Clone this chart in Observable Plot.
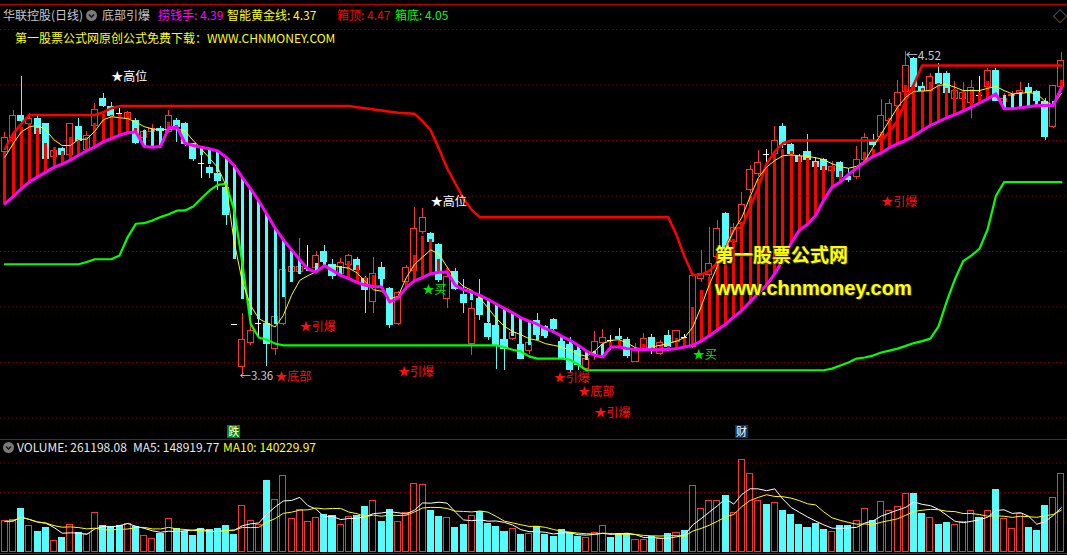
<!DOCTYPE html>
<html>
<head>
<meta charset="utf-8">
<script src="https://cdn.jsdelivr.net/npm/d3@7"></script>
<script src="https://cdn.jsdelivr.net/npm/@observablehq/plot@0.6"></script>
<style>
  html, body { margin: 0; padding: 0; background: #000; }
  #wrap { position: relative; width: 1067px; height: 555px; overflow: hidden; background: #000;
          font-family: "Noto Sans CJK SC", "Noto Sans", sans-serif; }
  #wrap svg { display: block; position: absolute; left: 0; }
  .t { position: absolute; white-space: nowrap; font-size: 12px; line-height: 14px; }
  .hline { position: absolute; left: 0; width: 1067px; height: 1px; background: #b00000; }
  .icon { position: absolute; width: 11px; height: 11px; border-radius: 50%; background: #7a7a7a; }
  .tag { position: absolute; width: 13px; height: 13px; font-size: 11px; line-height: 13px;
         text-align: center; color: #fff; }
  .mark { position: absolute; white-space: nowrap; font-weight: bold; color: #ffff00;
          text-shadow: 1px 1px 0 #3a3a00, -1px 0 0 #3a3a00; }
</style>
</head>
<body>
<div id="wrap"></div>
<script>
// ---- 华联控股 daily bars (price in yuan) ----
const open = [
  4.158, 4.20, 4.29, 4.26, 4.278, 4.26, 4.14, 4.17, 4.146, 4.25,
  4.166, 4.254, 4.35, 4.322, 4.298, 4.278, 4.272, 4.21, 4.23, 4.242,
  4.23, 4.272, 4.26, 4.188, 4.12, 4.102, 4.08, 4.03, 3.538, 3.382,
  3.47, 3.54, 3.54, 3.45, 3.54, 3.726, 3.726, 3.74, 3.741, 3.80,
  3.753, 3.72, 3.75, 3.77, 3.702, 3.618, 3.741, 3.666, 3.54, 3.69,
  3.73, 3.87, 3.862, 3.822, 3.63, 3.726, 3.642, 3.465, 3.63, 3.54,
  3.531, 3.482, 3.486, 3.462, 3.44, 3.55, 3.528, 3.552, 3.474, 3.462,
  3.44, 3.376, 3.426, 3.47, 3.482, 3.492, 3.482, 3.402, 3.444, 3.49,
  3.432, 3.494, 3.474, 3.492, 3.456, 3.702, 3.714, 3.78, 3.935, 3.834,
  3.90, 4.02, 4.08, 4.15, 4.152, 4.25, 4.182, 4.14, 4.158, 4.122,
  4.13, 4.09, 4.12, 4.07, 4.068, 4.128, 4.20, 4.212, 4.27, 4.326,
  4.374, 4.492, 4.392, 4.38, 4.44, 4.44, 4.35, 4.35, 4.335, 4.364,
  4.392, 4.452, 4.34, 4.36, 4.37, 4.39, 4.374, 4.338, 4.248, 4.392
];
const high = [
  4.23, 4.308, 4.43, 4.296, 4.29, 4.262, 4.176, 4.175, 4.262, 4.278,
  4.234, 4.332, 4.37, 4.338, 4.314, 4.306, 4.28, 4.24, 4.256, 4.25,
  4.308, 4.278, 4.265, 4.19, 4.162, 4.11, 4.085, 4.035, 3.538, 3.576,
  3.60, 3.564, 3.545, 3.57, 3.738, 3.75, 3.846, 3.82, 3.80, 3.82,
  3.77, 3.775, 3.79, 3.78, 3.71, 3.78, 3.762, 3.67, 3.655, 3.75,
  3.957, 3.955, 3.87, 3.83, 3.74, 3.74, 3.70, 3.615, 3.70, 3.55,
  3.536, 3.49, 3.53, 3.48, 3.51, 3.576, 3.535, 3.56, 3.48, 3.49,
  3.45, 3.42, 3.51, 3.518, 3.498, 3.522, 3.49, 3.47, 3.506, 3.50,
  3.48, 3.516, 3.515, 3.50, 3.72, 3.804, 3.886, 3.912, 3.94, 3.90,
  4.014, 4.11, 4.164, 4.168, 4.25, 4.26, 4.19, 4.15, 4.22, 4.14,
  4.135, 4.126, 4.125, 4.098, 4.18, 4.227, 4.222, 4.347, 4.347, 4.416,
  4.52, 4.50, 4.41, 4.44, 4.476, 4.45, 4.414, 4.41, 4.416, 4.43,
  4.46, 4.46, 4.37, 4.375, 4.41, 4.404, 4.38, 4.35, 4.40, 4.518
];
const low = [
  4.14, 4.19, 4.265, 4.255, 4.22, 4.125, 4.12, 4.14, 4.14, 4.164,
  4.16, 4.25, 4.32, 4.285, 4.274, 4.27, 4.185, 4.205, 4.225, 4.23,
  4.225, 4.194, 4.18, 4.125, 4.062, 4.062, 4.02, 3.892, 3.537, 3.36,
  3.462, 3.486, 3.384, 3.426, 3.535, 3.72, 3.72, 3.735, 3.735, 3.755,
  3.70, 3.71, 3.745, 3.725, 3.576, 3.576, 3.70, 3.522, 3.535, 3.685,
  3.725, 3.86, 3.825, 3.69, 3.594, 3.66, 3.576, 3.426, 3.55, 3.48,
  3.375, 3.37, 3.48, 3.41, 3.43, 3.49, 3.49, 3.515, 3.41, 3.365,
  3.37, 3.37, 3.408, 3.46, 3.444, 3.47, 3.415, 3.40, 3.44, 3.43,
  3.425, 3.45, 3.468, 3.484, 3.45, 3.69, 3.70, 3.768, 3.79, 3.82,
  3.89, 4.01, 4.07, 4.11, 4.14, 4.17, 4.145, 4.115, 4.12, 4.10,
  4.09, 4.085, 4.06, 4.05, 4.06, 4.12, 4.175, 4.20, 4.26, 4.32,
  4.37, 4.38, 4.37, 4.37, 4.40, 4.36, 4.32, 4.34, 4.28, 4.35,
  4.38, 4.34, 4.33, 4.35, 4.36, 4.365, 4.34, 4.20, 4.242, 4.38
];
const close = [
  4.21, 4.29, 4.272, 4.278, 4.224, 4.134, 4.162, 4.146, 4.26, 4.20,
  4.218, 4.31, 4.324, 4.29, 4.296, 4.30, 4.19, 4.232, 4.242, 4.234,
  4.29, 4.248, 4.188, 4.132, 4.118, 4.082, 4.054, 3.93, 3.537, 3.482,
  3.514, 3.54, 3.466, 3.564, 3.732, 3.744, 3.744, 3.74, 3.782, 3.762,
  3.71, 3.758, 3.782, 3.732, 3.662, 3.72, 3.702, 3.534, 3.652, 3.741,
  3.882, 3.922, 3.834, 3.696, 3.708, 3.666, 3.613, 3.592, 3.57, 3.492,
  3.462, 3.45, 3.508, 3.414, 3.47, 3.50, 3.494, 3.522, 3.414, 3.372,
  3.39, 3.413, 3.474, 3.49, 3.48, 3.484, 3.422, 3.444, 3.483, 3.444,
  3.47, 3.456, 3.512, 3.49, 3.71, 3.72, 3.754, 3.882, 3.81, 3.886,
  3.966, 4.092, 4.12, 4.148, 4.20, 4.182, 4.152, 4.122, 4.128, 4.106,
  4.094, 4.104, 4.068, 4.056, 4.13, 4.21, 4.182, 4.29, 4.33, 4.37,
  4.47, 4.392, 4.38, 4.43, 4.404, 4.37, 4.38, 4.37, 4.39, 4.362,
  4.452, 4.342, 4.35, 4.365, 4.38, 4.37, 4.344, 4.212, 4.398, 4.488
];
// daily volume (shares, hands)
const volume = [
  101700, 105100, 142400, 84750, 65540, 80230, 33900, 45200, 91500, 61020,
  57630, 128820, 84750, 82490, 84750, 92660, 82490, 50850, 40680, 58760,
  110740, 76840, 65540, 50850, 75710, 71190, 74580, 84750, 54240, 152550,
  102830, 88140, 238430, 172890, 254250, 110740, 141250, 98310, 114130, 122040,
  118650, 88140, 116390, 118650, 149160, 169500, 99440, 138990, 99440, 131080,
  229390, 223740, 135600, 116390, 114130, 79100, 90400, 120910, 132210, 91530,
  82490, 65540, 76840, 54240, 57630, 82490, 54240, 48590, 71190, 62150,
  48590, 46330, 63280, 87010, 45200, 57630, 57630, 39550, 37290, 48590,
  41810, 57630, 63280, 68930, 220350, 144640, 169500, 171760, 186500, 131080,
  310750, 263290, 169500, 155940, 162720, 135600, 122040, 88140, 77970, 91530,
  71190, 66670, 84750, 84750, 101700, 144640, 102830, 166110, 135600, 151420,
  193230, 193230, 125430, 114130, 88140, 94920, 90400, 100570, 137860, 114130,
  137860, 206790, 110000, 76490.85, 126560, 77970, 70950.77, 152550, 181930, 261198.08
];
// 捞钱手 (thick magenta line)
const moneyLine = [
  3.972, 3.998, 4.026, 4.051, 4.069, 4.086, 4.103, 4.115, 4.129, 4.147,
  4.163, 4.177, 4.195, 4.207, 4.219, 4.228, 4.231, 4.178, 4.176, 4.178,
  4.246, 4.248, 4.19, 4.182, 4.176, 4.17, 4.162, 4.14, 4.109, 4.066,
  4.026, 3.982, 3.934, 3.884, 3.842, 3.806, 3.77, 3.737, 3.726, 3.749,
  3.732, 3.714, 3.702, 3.689, 3.678, 3.674, 3.672, 3.618, 3.633, 3.67,
  3.694, 3.706, 3.72, 3.725, 3.726, 3.678, 3.662, 3.654, 3.642, 3.627,
  3.611, 3.594, 3.579, 3.561, 3.549, 3.538, 3.522, 3.511, 3.494, 3.48,
  3.462, 3.441, 3.426, 3.42, 3.456, 3.456, 3.45, 3.447, 3.447, 3.447,
  3.447, 3.447, 3.45, 3.456, 3.462, 3.477, 3.496, 3.517, 3.538, 3.564,
  3.588, 3.619, 3.65, 3.679, 3.72, 3.77, 3.83, 3.876, 3.898, 3.93,
  3.987, 4.032, 4.05, 4.078, 4.10, 4.122, 4.143, 4.155, 4.174, 4.188,
  4.20, 4.217, 4.236, 4.254, 4.268, 4.282, 4.293, 4.306, 4.32, 4.335,
  4.35, 4.368, 4.314, 4.314, 4.318, 4.322, 4.326, 4.326, 4.326, 4.39
];
// 智能黄金线 (thin yellow line)
const goldLine = [
  4.14, 4.188, 4.231, 4.249, 4.255, 4.238, 4.202, 4.182, 4.182, 4.204,
  4.205, 4.234, 4.274, 4.286, 4.282, 4.279, 4.266, 4.25, 4.242, 4.238,
  4.241, 4.242, 4.234, 4.20, 4.169, 4.136, 4.102, 4.038, 3.834, 3.69,
  3.606, 3.558, 3.542, 3.528, 3.57, 3.642, 3.696, 3.713, 3.727, 3.746,
  3.749, 3.744, 3.74, 3.723, 3.691, 3.662, 3.657, 3.63, 3.638, 3.705,
  3.753, 3.78, 3.806, 3.79, 3.744, 3.702, 3.674, 3.66, 3.633, 3.596,
  3.559, 3.53, 3.512, 3.50, 3.486, 3.48, 3.468, 3.462, 3.456, 3.444,
  3.43, 3.422, 3.441, 3.468, 3.48, 3.482, 3.47, 3.453, 3.448, 3.456,
  3.462, 3.468, 3.477, 3.49, 3.528, 3.60, 3.68, 3.747, 3.813, 3.876,
  3.924, 3.998, 4.066, 4.104, 4.128, 4.145, 4.148, 4.145, 4.143, 4.138,
  4.131, 4.116, 4.106, 4.10, 4.107, 4.126, 4.176, 4.224, 4.272, 4.32,
  4.356, 4.377, 4.378, 4.38, 4.398, 4.402, 4.392, 4.38, 4.38, 4.38,
  4.388, 4.395, 4.38, 4.368, 4.37, 4.373, 4.368, 4.342, 4.326, 4.37
];
// 箱顶 / 箱底 (box top red, box bottom green)
const boxTop = [
  4.17, 4.224, 4.26, 4.292, 4.292, 4.292, 4.292, 4.292, 4.292, 4.292,
  4.292, 4.292, 4.302, 4.316, 4.324, 4.324, 4.324, 4.324, 4.324, 4.324,
  4.324, 4.324, 4.324, 4.324, 4.324, 4.324, 4.324, 4.324, 4.324, 4.324,
  4.324, 4.324, 4.324, 4.324, 4.324, 4.324, 4.324, 4.324, 4.324, 4.324,
  4.324, 4.324, 4.324, 4.32, 4.316, 4.312, 4.308, 4.304, 4.30, 4.298,
  4.296, 4.27, 4.236, 4.17, 4.10, 4.045, 3.99, 3.95, 3.923, 3.923,
  3.923, 3.923, 3.923, 3.923, 3.923, 3.923, 3.923, 3.923, 3.923, 3.923,
  3.923, 3.923, 3.923, 3.923, 3.923, 3.923, 3.923, 3.923, 3.923, 3.923,
  3.923, 3.923, 3.86, 3.78, 3.714, 3.716, 3.73, 3.76, 3.81, 3.88,
  3.888, 3.96, 4.032, 4.116, 4.16, 4.19, 4.20, 4.20, 4.20, 4.20,
  4.20, 4.20, 4.20, 4.20, 4.20, 4.20, 4.20, 4.20, 4.23, 4.272,
  4.344, 4.404, 4.47, 4.47, 4.47, 4.47, 4.47, 4.47, 4.47, 4.47,
  4.47, 4.47, 4.47, 4.47, 4.47, 4.47, 4.47, 4.47, 4.47, 4.47
];
const boxBottom = [
  3.754, 3.754, 3.754, 3.754, 3.754, 3.754, 3.754, 3.754, 3.754, 3.754,
  3.762, 3.772, 3.772, 3.772, 3.786, 3.852, 3.90, 3.902, 3.912, 3.924,
  3.934, 3.947, 3.948, 3.962, 3.992, 4.02, 4.04, 4.044, 3.948, 3.756,
  3.54, 3.49, 3.482, 3.468, 3.462, 3.462, 3.462, 3.462, 3.462, 3.462,
  3.462, 3.462, 3.462, 3.462, 3.462, 3.462, 3.462, 3.462, 3.462, 3.462,
  3.462, 3.462, 3.462, 3.462, 3.462, 3.462, 3.462, 3.462, 3.462, 3.462,
  3.462, 3.455, 3.446, 3.44, 3.422, 3.414, 3.414, 3.414, 3.414, 3.41,
  3.393, 3.372, 3.372, 3.372, 3.372, 3.372, 3.372, 3.372, 3.372, 3.372,
  3.372, 3.372, 3.372, 3.372, 3.372, 3.372, 3.372, 3.372, 3.372, 3.372,
  3.372, 3.372, 3.372, 3.372, 3.372, 3.372, 3.372, 3.372, 3.372, 3.372,
  3.372, 3.378, 3.389, 3.40, 3.414, 3.418, 3.425, 3.436, 3.443, 3.45,
  3.46, 3.47, 3.477, 3.486, 3.53, 3.62, 3.70, 3.765, 3.785, 3.81,
  3.88, 4.00, 4.05, 4.05, 4.05, 4.05, 4.05, 4.05, 4.05, 4.05
];
// colour of the sticks between 捞钱手 and the 3-day EMA: r = red, c = cyan (run lengths)
const stickColorRuns = [["r", 17], ["c", 3], ["r", 2], ["c", 20], ["r", 4], ["c", 3], ["r", 6],
                        ["c", 19], ["r", 47], ["c", 8], ["r", 1]];
const emaStart = 4.158;      // 3-day EMA on the first bar shown
const priceGrid = [3.2, 3.4, 3.6, 3.8, 4.0, 4.2, 4.4, 4.6];
const volumeGrid = [100000, 200000, 300000];
// signal texts drawn by the 底部引爆 formula
const signalIdx   = [13, 52, 36, 33, 48, 51, 67, 70, 72, 84, 107];
const signalPrice = [4.427, 3.978, 3.528, 3.346, 3.364, 3.659, 3.343, 3.294, 3.216, 3.427, 3.978];
const signalText  = ["★高位", "★高位", "★引爆", "★底部", "★引爆", "★买", "★引爆", "★底部", "★引爆", "★买", "★引爆"];
const signalKind  = ["high", "high", "fire", "bottom", "fire", "buy", "fire", "bottom", "fire", "buy", "fire"];
// event tags under the price pane
const eventIdx = [28, 90];
const eventText = ["跌", "财"];
const eventBg = ["#008a00", "#0d3563"];

// ---- derived series ----
const N = close.length;
const fast = [];
close.forEach((c, i) => fast.push(i === 0 ? emaStart : (c + fast[i - 1]) / 2));
const stickColor = stickColorRuns.flatMap(([c, n]) => Array(n).fill(c));

const RED_K = "#ff3232", CYAN = "#54fcfc", GRID = "#b40000";
const FONT = "'Noto Sans CJK SC', 'Noto Sans', sans-serif";
const kindColor = {high: "#ffffff", fire: "#ff1010", bottom: "#ff1010", buy: "#00e800"};

const rows = d3.range(N).map(i => ({
  i, o: open[i], h: high[i], l: low[i], c: close[i], v: volume[i],
  gold: goldLine[i], money: moneyLine[i], top: boxTop[i], bot: boxBottom[i],
  fast: fast[i], stick: stickColor[i]
}));
const isDoji = d => Math.abs(d.c - d.o) < 0.003;
const isUp = d => d.c >= d.o;
const kColor = d => isDoji(d) ? "#ffffff" : (isUp(d) ? RED_K : CYAN);

const signals = signalIdx.map((i, k) => ({i, p: signalPrice[k], t: signalText[k], color: kindColor[signalKind[k]]}));
const lo = d3.minIndex(low), hi = d3.maxIndex(high);
const fmt = d3.format(".2f");

const xOpt = {type: "linear", domain: [-0.5, N - 0.5], axis: null};
const HALF = 0.37;

// ---- price pane ----
const main = Plot.plot({
  width: 1067, height: 440,
  marginTop: 29, marginBottom: 22.5, marginLeft: 0.3, marginRight: 2,
  x: xOpt,
  y: {domain: [3.2, 4.6], axis: null},
  style: {background: "transparent", fontFamily: FONT, overflow: "visible"},
  marks: [
    Plot.ruleY(priceGrid, {stroke: GRID, strokeDasharray: "1,3"}),
    Plot.ruleX(rows, {x: "i", y1: "l", y2: "h", stroke: kColor, strokeWidth: 1, shapeRendering: "crispEdges"}),
    Plot.rect(rows.filter(d => !isDoji(d)), {
      x1: d => d.i - HALF, x2: d => d.i + HALF, y1: "o", y2: "c",
      fill: d => isUp(d) ? "#000000" : CYAN, stroke: d => isUp(d) ? RED_K : CYAN,
      strokeWidth: 1, shapeRendering: "crispEdges"
    }),
    Plot.ruleY(rows.filter(isDoji), {x1: d => d.i - HALF, x2: d => d.i + HALF, y: "c", stroke: "#ffffff", shapeRendering: "crispEdges"}),
    Plot.ruleX(rows, {x: "i", y1: "money", y2: "fast", stroke: d => d.stick === "r" ? "#ff0000" : CYAN,
                      strokeWidth: 3, shapeRendering: "crispEdges"}),
    Plot.line(rows, {x: "i", y: "top", stroke: "#ff0000", strokeWidth: 2.5}),
    Plot.line(rows, {x: "i", y: "bot", stroke: "#00ff00", strokeWidth: 2.2}),
    Plot.line(rows, {x: "i", y: "gold", stroke: "#ffff00", strokeWidth: 1}),
    Plot.line(rows, {x: "i", y: "money", stroke: "#ff00ff", strokeWidth: 3}),
    Plot.text(signals, {x: "i", y: "p", text: "t", fill: "color", textAnchor: "start", fontSize: 12, dx: 0}),
    Plot.text([{i: lo, p: low[lo]}], {x: "i", y: "p", text: d => "←" + fmt(d.p), fill: "#c8c8c8",
                                       textAnchor: "start", fontSize: 11.5, dx: -3, dy: 3}),
    Plot.text([{i: hi, p: high[hi]}], {x: "i", y: "p", text: d => "←" + fmt(d.p), fill: "#c8c8c8",
                                       textAnchor: "start", fontSize: 12, dx: 0, dy: 4})
  ]
});
main.style.top = "0px";

// ---- volume pane ----
const vol = Plot.plot({
  width: 1067, height: 115,
  marginTop: 7.75, marginBottom: 4, marginLeft: 0.3, marginRight: 2,
  x: xOpt,
  y: {domain: [0, 350000], axis: null},
  style: {background: "transparent", fontFamily: FONT, overflow: "visible"},
  marks: [
    Plot.ruleY(volumeGrid, {stroke: GRID, strokeDasharray: "1,3"}),
    Plot.rect(rows, {
      x1: d => d.i - HALF, x2: d => d.i + HALF, y1: 0, y2: "v",
      fill: d => isUp(d) ? "#000000" : CYAN, stroke: d => isUp(d) ? RED_K : CYAN,
      strokeWidth: 1, shapeRendering: "crispEdges"
    }),
    Plot.lineY(rows, Plot.windowY({k: 5, anchor: "end"}, {x: "i", y: "v", stroke: "#ffffff", strokeWidth: 1})),
    Plot.lineY(rows, Plot.windowY({k: 10, anchor: "end"}, {x: "i", y: "v", stroke: "#ffff00", strokeWidth: 1}))
  ]
});
vol.style.top = "440px";

const wrap = document.getElementById("wrap");
wrap.append(main, vol);

function add(html) { wrap.insertAdjacentHTML("beforeend", html); }
function text(str, left, centerY, color, extra = "") {
  add(`<div class="t" style="left:${left}px;top:${centerY - 7}px;color:${color};${extra}">${str}</div>`);
}
function icon(cx, cy) {
  add(`<div class="icon" style="left:${cx - 5.5}px;top:${cy - 5.5}px;">
        <svg width="11" height="11" style="position:absolute;left:0;top:0"><polyline points="3,4.5 5.5,7 8,4.5"
        fill="none" stroke="#1a1a1a" stroke-width="1.6"/></svg></div>`);
}

// frame lines
add(`<div class="hline" style="top:4px;background:#c00000"></div>`);
add(`<div class="hline" style="top:439px"></div>`);
add(`<div class="hline" style="top:553px"></div>`);

// price pane header
text("华联控股(日线)", 3, 15, "#c8c8c8");
icon(91.5, 15);
text("底部引爆", 102, 15, "#c8c8c8");
text("捞钱手: " + fmt(moneyLine[N - 1]), 158, 15, "#ff00ff");
text("智能黄金线: " + fmt(goldLine[N - 1]), 227, 15, "#ffff00");
text("箱顶: " + fmt(boxTop[N - 1]), 337, 15, "#ff0000");
text("箱底: " + fmt(boxBottom[N - 1]), 395, 15, "#00ff00");
text("◇", 1053, 15, "#8a8a8a", "font-size:14px");
text("第一股票公式网原创公式免费下载：WWW.CHNMONEY.COM", 15, 38, "#ffff00");

// volume pane header
const ma5 = d3.mean(volume.slice(-5)), ma10 = d3.mean(volume.slice(-10));
icon(8, 447);
text("VOLUME: " + fmt(volume[N - 1]), 17, 447, "#e6e6e6");
text("MA5: " + fmt(ma5), 133, 447, "#e6e6e6");
text("MA10: " + fmt(ma10), 223, 447, "#ffff00");

// event tags at the foot of the price pane
const xs = main.scale("x");
eventIdx.forEach((i, k) => {
  const cx = xs.apply(i);
  add(`<div class="tag" style="left:${cx - 6.5}px;top:425px;background:${eventBg[k]}">${eventText[k]}</div>`);
});

// site mark
add(`<div class="mark" style="left:715px;top:242px;font-size:19px;line-height:24px;font-family:'Noto Sans CJK SC',sans-serif">第一股票公式网</div>`);
add(`<div class="mark" style="left:715px;top:276px;font-size:20px;line-height:24px;font-family:'Liberation Sans',Arial,sans-serif">www.chnmoney.com</div>`);
</script>
</body>
</html>
